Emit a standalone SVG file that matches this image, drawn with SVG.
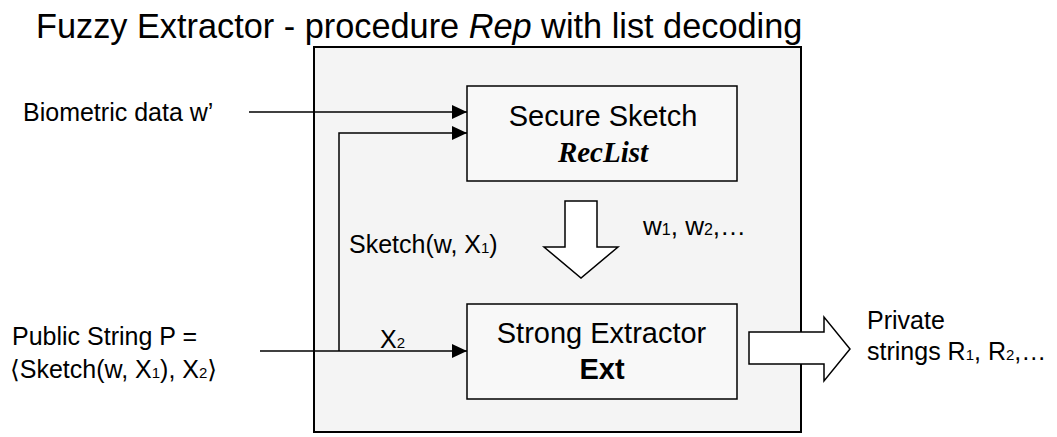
<svg xmlns="http://www.w3.org/2000/svg" width="1057" height="437" viewBox="0 0 1057 437">
<style>
.t{font-family:"Liberation Sans",Arial,"DejaVu Sans",sans-serif;fill:#000}
.b{font-size:25px}
.sub{font-size:15px}
.box{fill:#f8f8f8;stroke:#000;stroke-width:1.5}
.ln{fill:none;stroke:#000;stroke-width:1.5}
.blk{fill:#fff;stroke:#000;stroke-width:1.5}
</style>
<defs>
<marker id="ah" markerWidth="16" markerHeight="14" refX="15" refY="7" orient="auto" markerUnits="userSpaceOnUse">
<path d="M0,0 L15,7 L0,14 Z" fill="#000"/>
</marker>
</defs>
<rect width="1057" height="437" fill="#fff"/>
<text class="t" x="36" y="38" font-size="34.3">Fuzzy Extractor - procedure <tspan font-style="italic">Rep</tspan> with list decoding</text>
<g id="outer">
<rect x="314" y="47" width="487" height="385" fill="#f4f4f4" stroke="#000" stroke-width="2"/>
</g>
<g id="connectors">
<line class="ln" x1="249" y1="112" x2="467" y2="112" marker-end="url(#ah)"/>
<polyline class="ln" points="339,351 339,133 467,133" marker-end="url(#ah)"/>
<line class="ln" x1="260" y1="351" x2="467" y2="351" marker-end="url(#ah)"/>
<path class="blk" d="M565,201 H597 V247 H618 L581,278 L544,247 H565 Z"/>
<path class="blk" d="M749,332 H824 V317 L850,349 L824,381 V364 H749 Z"/>
</g>
<g id="secure-sketch">
<rect class="box" x="467" y="86" width="270" height="95"/>
<text class="t" x="603" y="126" font-size="29" text-anchor="middle">Secure Sketch</text>
<text x="603" y="162" font-size="29" font-family="'Liberation Serif','Times New Roman',serif" font-weight="bold" font-style="italic" text-anchor="middle">RecList</text>
</g>
<g id="strong-extractor">
<rect class="box" x="467" y="304" width="270" height="95"/>
<text class="t" x="601.5" y="343" font-size="29" text-anchor="middle">Strong Extractor</text>
<text class="t" x="602" y="379" font-size="29" font-weight="bold" text-anchor="middle">Ext</text>
</g>
<g id="labels">
<text class="t b" x="23" y="121">Biometric data w’</text>
<text class="t b" x="349" y="253">Sketch(w, X<tspan class="sub">1</tspan>)</text>
<text class="t" x="643" y="235" font-size="26">w<tspan font-size="16">1</tspan>, w<tspan font-size="16">2</tspan>,…</text>
<text class="t b" x="380" y="348">X<tspan class="sub">2</tspan></text>
<text class="t b" x="12" y="345">Public String P =</text>
<text class="t b" x="10" y="378">⟨Sketch(w, X<tspan class="sub">1</tspan>), X<tspan class="sub">2</tspan>⟩</text>
<text class="t b" x="867" y="329">Private</text>
<text class="t b" x="867" y="360">strings R<tspan class="sub">1</tspan>, R<tspan class="sub">2</tspan>,…</text>
</g>
</svg>
